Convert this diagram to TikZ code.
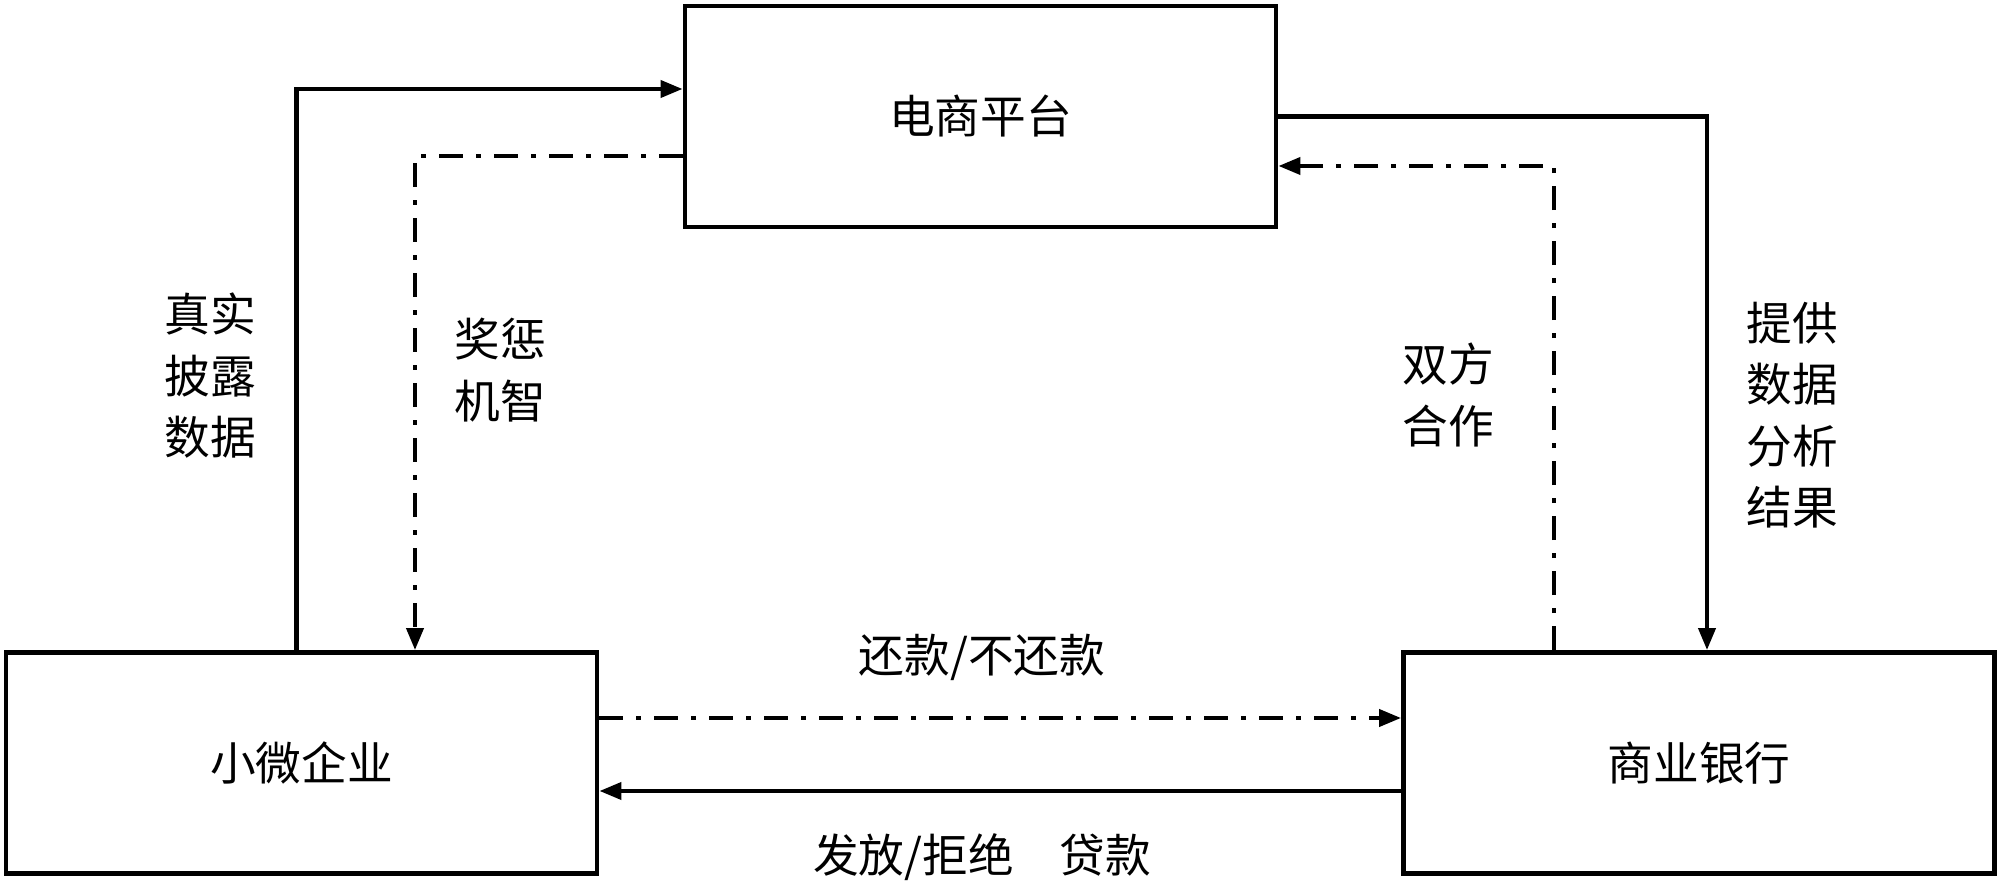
\documentclass[tikz,border=0pt]{standalone}
\usepackage{fontspec}
\newfontfamily\cjk{Noto Sans CJK SC}
\usetikzlibrary{arrows.meta,positioning,calc}

\begin{document}
\begin{tikzpicture}[
  party/.style={draw, line width=1.4pt, minimum width=5.91cm, minimum height=2.21cm, font=\cjk\fontsize{13}{17}\selectfont},
  flow/.style={line width=1.15pt, -{Triangle[length=0.22cm,width=0.17cm]}},
  link/.style={flow, dash pattern=on 0.24cm off 0.13cm on 0.05cm off 0.13cm},
  tag/.style={align=center, font=\cjk\fontsize{13}{17.5}\selectfont}
]
  \useasboundingbox (0,0) rectangle (20,8.89);

  % Three parties
  \node[party] (platform) at (9.805,7.725) {电商平台};
  \node[party] (sme) at (3.015,1.26) {小微企业};
  \node[party] (bank) at (16.99,1.26) {商业银行};

  % Enterprise <-> platform
  \draw[flow] ([xshift=-0.05cm]sme.north) |- ([yshift=0.275cm]platform.west);
  \draw[link] ([yshift=-0.395cm]platform.west) -| ([xshift=1.135cm]sme.north);
  \node[tag] (disclose) at (2.10,5.13) {真实\\披露\\数据};
  \node[tag] (reward) at (5.00,5.19) {奖惩\\机智};

  % Platform <-> bank
  \draw[flow] (platform.east) -| ([xshift=0.08cm]bank.north);
  \draw[link] ([xshift=-1.45cm]bank.north) |- ([yshift=-0.495cm]platform.east);
  \node[tag] (coop) at (14.48,4.94) {双方\\合作};
  \node[tag] (analysis) at (17.92,4.74) {提供\\数据\\分析\\结果};

  % Enterprise <-> bank
  \draw[link] ([yshift=0.45cm]sme.east) -- ([yshift=0.45cm]bank.west);
  \draw[flow] ([yshift=-0.28cm]bank.west) -- ([yshift=-0.28cm]sme.east);
  \node[tag] (repay) at (9.82,2.32) {还款/不还款};
  \node[tag] (loan) at (9.82,0.32) {发放/拒绝　贷款};
\end{tikzpicture}
\end{document}
